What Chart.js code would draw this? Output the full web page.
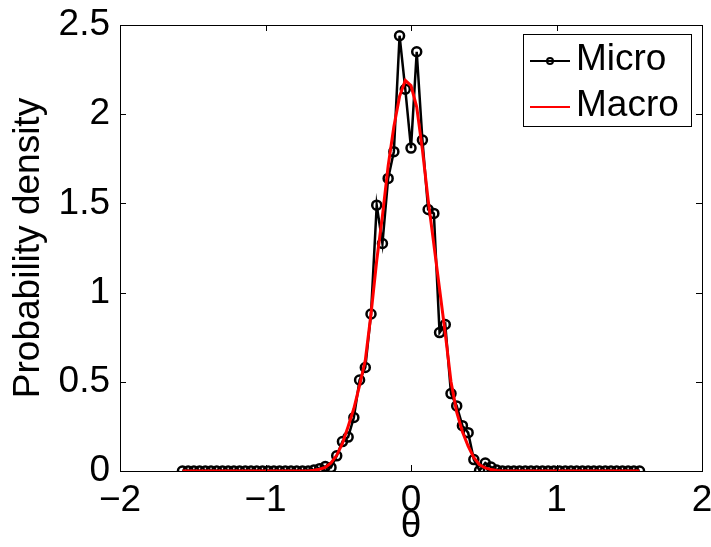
<!DOCTYPE html>
<html>
<head>
<meta charset="utf-8">
<script src="https://cdn.jsdelivr.net/npm/chart.js@4"></script>
<style>
  html, body { margin: 0; padding: 0; background: #fff; }
  canvas { display: block; }
</style>
</head>
<body>
<canvas id="chart" width="711" height="547"></canvas>
<script>
// theta grid: 81 samples from -pi/2 to pi/2
const thetaStart = -1.5708
const thetaStep = 0.03927

const microValues = [
    0, 0, 0, 0, 0, 0, 0, 0, 0, 0, 0, 0, 0, 0, 0, 0, 0, 0, 0, 0, 0, 0, 0,
    0.005, 0.013, 0.025, 0.02, 0.085, 0.165, 0.19, 0.30, 0.51, 0.58, 0.88,
    1.49, 1.275, 1.64, 1.79, 2.44, 2.14, 1.81, 2.35, 1.855, 1.466, 1.444,
    0.776, 0.821, 0.434, 0.365, 0.254, 0.215, 0.064, 0.003, 0.045, 0.022, 0.005,
    0, 0, 0, 0, 0, 0, 0, 0, 0, 0, 0, 0, 0, 0, 0, 0, 0, 0, 0, 0, 0, 0, 0, 0, 0
]

const macroValues = [
    0, 0, 0, 0, 0, 0, 0, 0, 0, 0, 0, 0, 0, 0, 0, 0, 0, 0, 0, 0, 0, 0, 0,
    0.004, 0.01, 0.02, 0.045, 0.088, 0.155, 0.25, 0.35, 0.48, 0.62, 0.88,
    1.18, 1.43, 1.71, 1.93, 2.10, 2.19, 2.16, 2.04, 1.80, 1.52, 1.27,
    1.02, 0.77, 0.50, 0.33, 0.22, 0.14, 0.075, 0.035, 0.017, 0.008, 0.003,
    0, 0, 0, 0, 0, 0, 0, 0, 0, 0, 0, 0, 0, 0, 0, 0, 0, 0, 0, 0, 0, 0, 0, 0, 0
]

const xTicks = [-2, -1, 0, 1, 2]
const yTicks = [0, 0.5, 1, 1.5, 2, 2.5]
const seriesNames = ['Micro', 'Macro']

const FONT = 'Liberation Sans, Arial, Helvetica, sans-serif'

const toPoints = vals => vals.map((v, i) => ({ x: thetaStart + i * thetaStep, y: v }))

// box around the axes with inward ticks, like the original
const frame = {
    id: 'frame',
    afterDatasetsDraw(chart) {
        const { ctx, chartArea: a, scales: { x, y } } = chart
        const len = 6
        ctx.save()
        ctx.strokeStyle = '#000'
        ctx.lineWidth = 1
        ctx.strokeRect(Math.round(a.left) + 0.5, Math.round(a.top) + 0.5, Math.round(a.width), Math.round(a.height))
        ctx.beginPath()
        xTicks.forEach(v => {
            const px = Math.round(x.getPixelForValue(v)) + 0.5
            ctx.moveTo(px, a.bottom); ctx.lineTo(px, a.bottom - len)
            ctx.moveTo(px, a.top); ctx.lineTo(px, a.top + len)
        })
        yTicks.forEach(v => {
            const py = Math.round(y.getPixelForValue(v)) + 0.5
            ctx.moveTo(a.left, py); ctx.lineTo(a.left + len, py)
            ctx.moveTo(a.right, py); ctx.lineTo(a.right - len, py)
        })
        ctx.stroke()
        ctx.restore()
    }
}

// boxed legend inside the plot, top right
const boxLegend = {
    id: 'boxLegend',
    afterDraw(chart) {
        const { ctx } = chart
        const bx = 523, by = 34, bw = 168, bh = 92
        ctx.save()
        ctx.fillStyle = '#fff'
        ctx.fillRect(bx, by, bw, bh)
        ctx.strokeStyle = '#000'
        ctx.lineWidth = 1
        ctx.strokeRect(bx + 0.5, by + 0.5, bw, bh)
        const rows = [61, 107]
        const colors = ['#000', '#ff0000']
        rows.forEach((ry, i) => {
            ctx.strokeStyle = colors[i]
            ctx.lineWidth = 2
            ctx.beginPath()
            ctx.moveTo(530, ry); ctx.lineTo(570, ry)
            ctx.stroke()
            if (i === 0) {
                ctx.beginPath()
                ctx.arc(550, ry, 3, 0, Math.PI * 2)
                ctx.stroke()
            }
            ctx.fillStyle = '#000'
            ctx.font = '37px ' + FONT
            ctx.textBaseline = 'middle'
            ctx.textAlign = 'left'
            ctx.fillText(seriesNames[i], 576, ry - 1)
        })
        ctx.restore()
    }
}

const ctx = document.getElementById('chart')
new Chart(ctx, {
    type: 'line',
    data: {
        datasets: [{
            label: seriesNames[0],
            data: toPoints(microValues),
            borderColor: '#000',
            borderWidth: 2.5,
            pointRadius: 4.5,
            pointBorderWidth: 2.5,
            pointBorderColor: '#000',
            pointBackgroundColor: 'rgba(0,0,0,0)',
            tension: 0,
            order: 2
        }, {
            label: seriesNames[1],
            data: toPoints(macroValues),
            borderColor: '#ff0000',
            borderWidth: 3,
            pointRadius: 0,
            tension: 0,
            order: 1
        }]
    },
    options: {
        responsive: false,
        animation: false,
        layout: { padding: { top: 25, right: 9, left: 0, bottom: 0 } },
        plugins: {
            legend: { display: false },
            tooltip: { enabled: false }
        },
        scales: {
            x: {
                type: 'linear',
                min: -2,
                max: 2,
                afterBuildTicks: s => { s.ticks = xTicks.map(v => ({ value: v })) },
                afterFit: s => { s.height = 76; s.paddingLeft = 0; s.paddingRight = 0 },
                grid: { display: false, drawTicks: false },
                border: { display: false },
                ticks: {
                    color: '#000',
                    padding: 8,
                    maxRotation: 0,
                    font: { family: FONT, size: 37 },
                    callback: v => (v < 0 ? '\u2212' + Math.abs(v) : String(v))
                },
                title: {
                    display: true,
                    text: 'θ',
                    color: '#000',
                    font: { family: FONT, size: 37, lineHeight: 1 },
                    padding: { top: 0, bottom: 2 }
                }
            },
            y: {
                min: 0,
                max: 2.5,
                afterBuildTicks: s => { s.ticks = yTicks.map(v => ({ value: v })) },
                afterFit: s => { s.width = 120; s.paddingTop = 0; s.paddingBottom = 0 },
                grid: { display: false, drawTicks: false },
                border: { display: false },
                ticks: {
                    color: '#000',
                    padding: 10,
                    font: { family: FONT, size: 37 },
                    callback: v => String(v)
                },
                title: {
                    display: true,
                    text: 'Probability density',
                    color: '#000',
                    font: { family: FONT, size: 37, lineHeight: 1 },
                    padding: { top: 10, bottom: 0 }
                }
            }
        }
    },
    plugins: [frame, boxLegend]
})
</script>
</body>
</html>
